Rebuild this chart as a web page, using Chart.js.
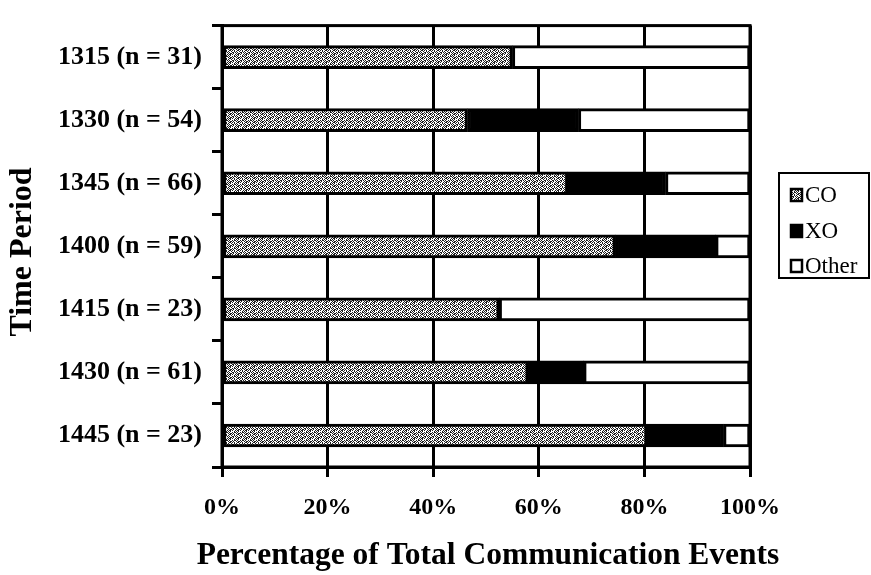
<!DOCTYPE html>
<html>
<head>
<meta charset="utf-8">
<script src="https://cdn.jsdelivr.net/npm/chart.js@4.4.0/dist/chart.umd.min.js"></script>
<style>
  html, body { margin: 0; padding: 0; background: #ffffff; }
  #wrap { width: 871px; height: 575px; position: relative; }
</style>
</head>
<body>
<div id="wrap"><canvas id="c" width="871" height="575"></canvas></div>
<script>
// ---- data ----
const categories = ["1315 (n = 31)", "1330 (n = 54)", "1345 (n = 66)", "1400 (n = 59)", "1415 (n = 23)", "1430 (n = 61)", "1445 (n = 23)"];
const seriesNames = ["CO", "XO", "Other"];
const coValues    = [55, 46.5, 65.5, 74.5, 52.5, 58, 80.5];
const xoValues    = [0, 21, 18.5, 19, 0, 10.5, 14.5];
const otherValues = [45, 32.5, 16, 6.5, 47.5, 31.5, 5];
const xTickValues = [0, 20, 40, 60, 80, 100];
const xAxisTitle = "Percentage of Total Communication Events";
const yAxisTitle = "Time Period";

// ---- stipple pattern for CO ----
function makeStipple() {
  const rows = [
    "10110100",
    "01001011",
    "10100110",
    "00101001",
    "11010100",
    "01001011",
    "10010110",
    "00101010"
  ];
  const pc = document.createElement('canvas');
  pc.width = 8; pc.height = 8;
  const g = pc.getContext('2d');
  g.fillStyle = '#ffffff';
  g.fillRect(0, 0, 8, 8);
  g.fillStyle = '#1e1e1e';
  for (let y = 0; y < 8; y++) for (let x = 0; x < 8; x++) if (rows[y][x] === '1') g.fillRect(x, y, 1, 1);
  return g.createPattern(pc, 'repeat');
}
const ctx = document.getElementById('c').getContext('2d');
const stipple = makeStipple();
const fills = [stipple, '#000000', '#ffffff'];

const serif = "'Liberation Serif', 'Times New Roman', serif";

const framePlugin = {
  id: 'frame',
  afterDatasetsDraw(chart) {
    const { ctx, chartArea: a } = chart;
    ctx.save();
    ctx.strokeStyle = '#000';
    ctx.lineWidth = 3;
    ctx.strokeRect(a.left, a.top, a.right - a.left, a.bottom - a.top);
    ctx.restore();
  },
  afterDraw(chart) {
    const { ctx, chartArea: a } = chart;
    ctx.save();
    ctx.fillStyle = '#000';
    ctx.textAlign = 'center';
    ctx.textBaseline = 'middle';
    // x axis title
    ctx.font = "bold 31.5px " + serif;
    ctx.fillText(xAxisTitle, (a.left + a.right) / 2 + 2, 556);
    // y axis title
    ctx.translate(23, 252);
    ctx.rotate(-Math.PI / 2);
    ctx.font = "bold 32px " + serif;
    ctx.fillText(yAxisTitle, 0, 0);
    ctx.restore();

    // legend
    ctx.save();
    ctx.strokeStyle = '#000';
    ctx.lineWidth = 2;
    ctx.strokeRect(779, 173, 90, 105);
    const ys = [195, 231, 266];
    chart.data.datasets.forEach((ds, i) => {
      ctx.fillStyle = ds.backgroundColor;
      ctx.fillRect(790, ys[i] - 7, 13, 14);
      ctx.lineWidth = 2.5;
      ctx.strokeStyle = '#000';
      ctx.strokeRect(791, ys[i] - 6, 11, 12);
      ctx.fillStyle = '#000';
      ctx.font = "23px " + serif;
      ctx.textAlign = 'left';
      ctx.textBaseline = 'middle';
      ctx.fillText(ds.label, 805, ys[i] + 1);
    });
    ctx.restore();
  }
};

new Chart(ctx, {
  type: 'bar',
  data: {
    labels: categories,
    datasets: [
      { label: seriesNames[0], data: coValues, backgroundColor: fills[0] },
      { label: seriesNames[1], data: xoValues, backgroundColor: fills[1] },
      { label: seriesNames[2], data: otherValues, backgroundColor: fills[2] }
    ].map(d => Object.assign(d, {
      borderColor: '#000', borderWidth: 3, borderSkipped: false, barThickness: 23
    }))
  },
  options: {
    indexAxis: 'y',
    responsive: false,
    animation: false,
    layout: { padding: { left: 0, top: 10, right: 121, bottom: 0 } },
    plugins: { legend: { display: false }, tooltip: { enabled: false } },
    scales: {
      x: {
        stacked: true,
        min: 0, max: 100,
        afterBuildTicks(scale) { scale.ticks = xTickValues.map(v => ({ value: v })); },
        afterFit(scale) { scale.height = 108; },
        ticks: {
          callback: v => v + '%',
          color: '#000',
          padding: 16,
          maxRotation: 0,
          font: { family: serif, size: 24, weight: 'bold' }
        },
        grid: { color: '#000', lineWidth: 3, drawTicks: true, tickLength: 10, tickColor: '#000', tickWidth: 3 },
        border: { color: '#000', width: 3 },
        title: { display: false }
      },
      y: {
        stacked: true,
        afterFit(scale) { scale.width = 222; },
        ticks: {
          color: '#000',
          padding: 10,
          font: { family: serif, size: 26, weight: 'bold' }
        },
        grid: { display: true, drawOnChartArea: false, offset: true, drawTicks: true, tickLength: 10, color: '#000', tickColor: '#000', lineWidth: 3, tickWidth: 3 },
        border: { color: '#000', width: 3 }
      }
    }
  },
  plugins: [framePlugin]
});
</script>
</body>
</html>
